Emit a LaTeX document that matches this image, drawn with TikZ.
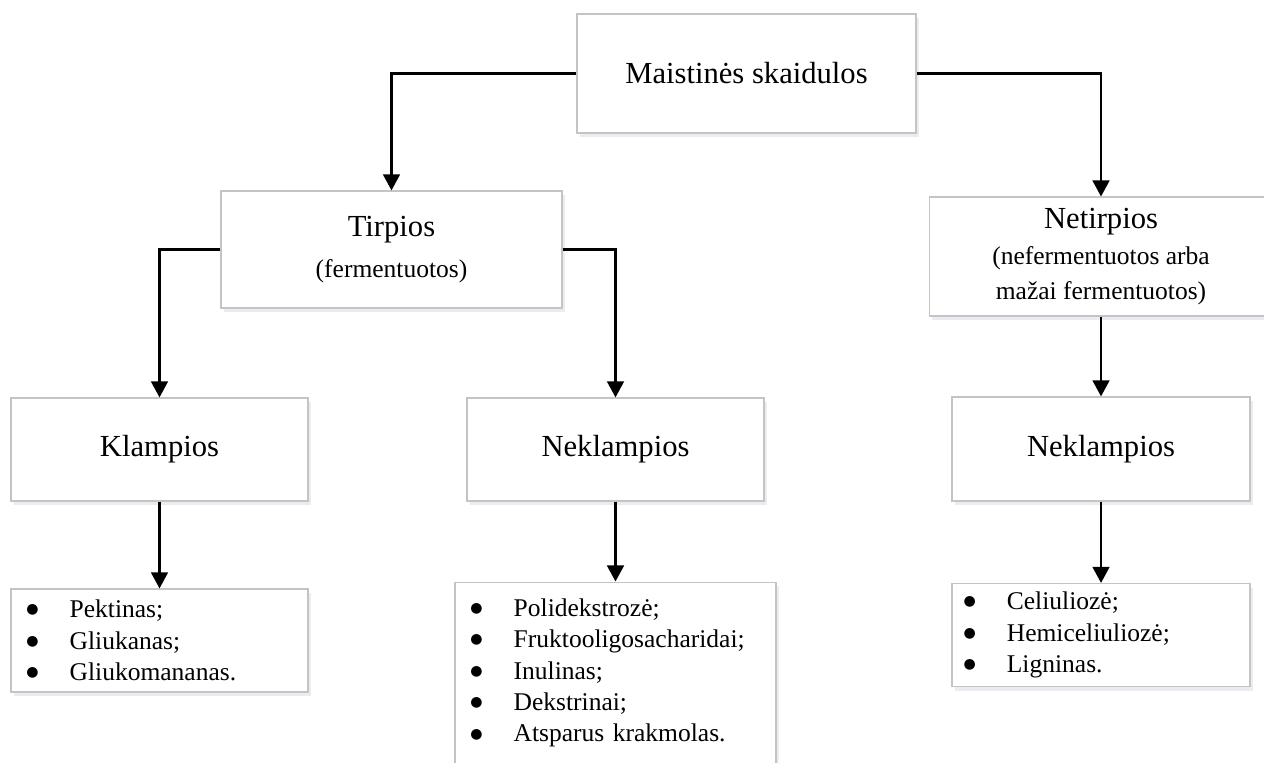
\documentclass[tikz,border=0pt]{standalone}
\usepackage{fontspec}
\setmainfont{Liberation Serif}
\newfontfamily\symfont{DejaVu Sans}
\usetikzlibrary{arrows.meta, positioning, shadows}
\definecolor{boxGray}{RGB}{196, 196, 196}
\definecolor{shadowGray}{RGB}{225, 228, 236}

\newcommand{\bul}[1]{\makebox[17pt][l]{\raisebox{1.5pt}{\symfont\fontsize{5.5}{6}\selectfont ●}}#1}
\newcommand{\subtxt}[1]{{\fontsize{10}{11}\selectfont #1}}

\tikzset{
  fbox/.style={draw=boxGray, line width=0.45pt, fill=white, align=center,
    drop shadow={shadow xshift=1.2pt, shadow yshift=-1.6pt, fill=shadowGray, opacity=0.7},
    font=\fontsize{12}{14}\selectfont, inner sep=0pt},
  listbox/.style={fbox, align=left, font=\fontsize{10}{12.3}\selectfont},
  arr/.style={-{Triangle[length=6.3pt,width=6.6pt]}, line width=0.85pt, black},
}

\begin{document}
\begin{tikzpicture}[x=0.392pt, y=-0.392pt]
  \useasboundingbox (0,0) rectangle (1264,762);

  % Boxes
  \node[fbox, minimum width=132.9pt, minimum height=46.6pt] (top) at (746.5,73.5) {Maistinės skaidulos};
  \node[fbox, minimum width=133.7pt, minimum height=45.9pt] (tirp) at (391.5,249.5)
    {Tirpios\\[2pt]\subtxt{(fermentuotos)}};
  \node[fbox, minimum width=134.8pt, minimum height=46.6pt] (netirp) at (1101,256.5)
    {Netirpios\\[0pt]\subtxt{(nefermentuotos arba}\\[-0.5pt]\subtxt{mažai fermentuotos)}};

  \node[fbox, minimum width=116.4pt, minimum height=40.4pt] (klamp) at (159.5,449.5) {Klampios};
  \node[fbox, minimum width=116.4pt, minimum height=40.4pt] (neklA) at (615.5,449.5) {Neklampios};
  \node[fbox, minimum width=116.8pt, minimum height=40.8pt] (neklB) at (1101,449) {Neklampios};

  % Lists
  \node[listbox, minimum width=116.4pt, minimum height=40.4pt, text width=104.4pt] (listA) at (159.5,640.5)
    {\bul{Pektinas;}\\ \bul{Gliukanas;}\\ \bul{Gliukomananas.}};
  \node[listbox, minimum width=125.8pt, minimum height=71.3pt, text width=113.8pt] (listB) at (615.5,673)
    {\bul{Polidekstrozė;}\\ \bul{Fruktooligosacharidai;}\\ \bul{Inulinas;}\\ \bul{Dekstrinai;}\\ \bul{Atsparus krakmolas.}};
  \node[listbox, minimum width=116.8pt, minimum height=40.4pt, text width=107.8pt] (listC) at (1101,635)
    {\bul{Celiuliozė;}\\ \bul{Hemiceliuliozė;}\\ \bul{Ligninas.}};

  % Connectors
  \draw[arr] (top.west) -| (tirp.north);
  \draw[arr] (top.east) -| (netirp.north);
  \draw[arr] (tirp.west) -| (klamp.north);
  \draw[arr] (tirp.east) -| (neklA.north);
  \draw[arr] (netirp.south) -- (neklB.north);
  \draw[arr] (klamp.south) -- (listA.north);
  \draw[arr] (neklA.south) -- (listB.north);
  \draw[arr] (neklB.south) -- (listC.north);
\end{tikzpicture}
\end{document}
